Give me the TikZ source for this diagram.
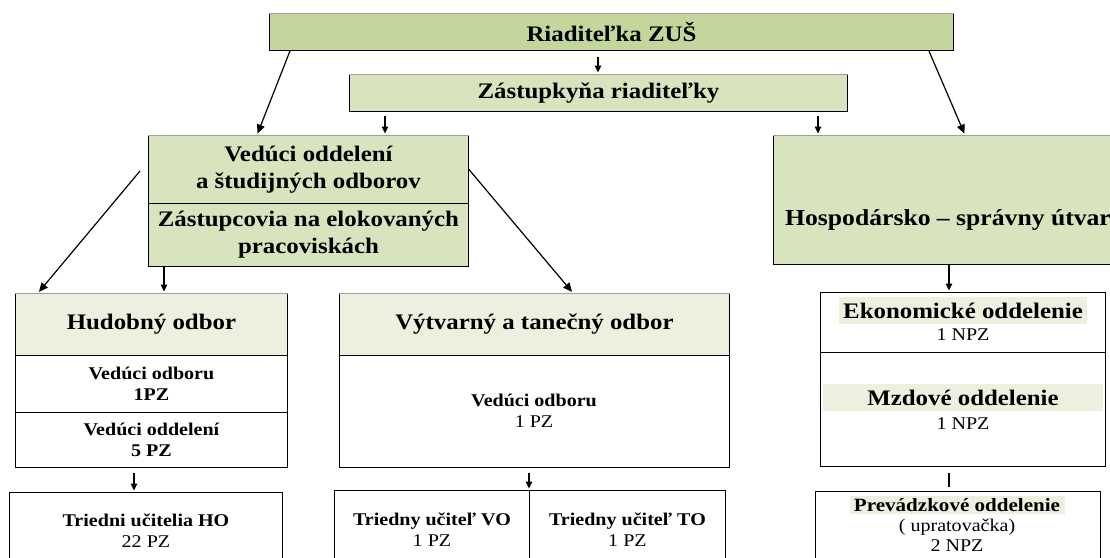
\documentclass[tikz,border=0pt]{standalone}
\usepackage{fontspec}
\setmainfont{Liberation Serif}[FakeStretch=1.12]
\usetikzlibrary{arrows.meta}
\definecolor{dkg}{HTML}{C3D69B}
\definecolor{ltg}{HTML}{D7E4BD}
\definecolor{pal}{HTML}{EBF1DE}
\definecolor{edg}{HTML}{A0A0A0}
\tikzset{
  box/.style={draw=black, line width=0.9pt, inner sep=0pt, anchor=north west, align=center},
  gbox/.style={box, fill=ltg},
  bigtxt/.style={font=\fontsize{22.2}{27}\selectfont\bfseries},
  smalltxt/.style={font=\fontsize{17.9}{21.5}\selectfont},
  smallbold/.style={font=\fontsize{17.9}{21.5}\selectfont\bfseries},
  txt/.style={inner sep=0pt, align=center},
  hl/.style={fill=pal, inner sep=0pt},
  arr/.style={-{Triangle[length=7pt,width=6.5pt]}, line width=1.1pt, shorten >=1.5pt},
  darr/.style={-{Triangle[length=9pt,width=8pt]}, line width=1.2pt, shorten >=1.5pt},
  plain/.style={line width=1.1pt},
  topedge/.style={draw=edg, line width=0.9pt},
}
\begin{document}
\begin{tikzpicture}[x=1pt,y=-1pt]
\useasboundingbox (0,0) rectangle (1110,557);
\fill[white] (0,0) rectangle (1110,557);
\clip (0,0) rectangle (1110,557);

% top level
\node[box, fill=dkg, minimum width=684pt, minimum height=37pt, bigtxt] (riad) at (269,13) {Riaditeľka ZUŠ};
\node[gbox, minimum width=498pt, minimum height=37pt, bigtxt] (zast) at (349,74) {Zástupkyňa riaditeľky};

% second level
\node[gbox, minimum width=320pt, minimum height=68pt, bigtxt] (vedA) at (148,135) {Vedúci oddelení\\a študijných odborov};
\node[gbox, minimum width=320pt, minimum height=63pt, bigtxt] (vedB) at (148,203) {Zástupcovia na elokovaných\\pracoviskách};
\node[gbox, minimum width=350pt, minimum height=129pt] (hosp) at (773,135) {};
\node[txt, anchor=west, font=\fontsize{22.9}{27}\selectfont\bfseries] (hospT) at (785,220) {Hospodársko – správny útvar};

% Hudobny odbor
\node[box, fill=pal, minimum width=272pt, minimum height=62pt, bigtxt] (hudH) at (15,293) {Hudobný odbor};
\node[box, minimum width=272pt, minimum height=57pt, smallbold] (hudR1) at (15,355) {Vedúci odboru\\1PZ};
\node[box, minimum width=272pt, minimum height=55pt, smallbold] (hudR2) at (15,412) {Vedúci oddelení\\5 PZ};

% Vytvarny a tanecny odbor
\node[box, fill=pal, minimum width=390pt, minimum height=62pt, bigtxt] (vytH) at (339,293) {Výtvarný a tanečný odbor};
\node[box, minimum width=390pt, minimum height=112pt] (vytB) at (339,355) {};
\node[txt, smalltxt] (vytT) at (534,411) {\textbf{Vedúci odboru}\\1 PZ};

% Ekonomicke / Mzdove
\node[box, minimum width=285pt, minimum height=60pt] (ekoA) at (820,292) {};
\node[box, minimum width=285pt, minimum height=114pt] (ekoB) at (820,352) {};
\node[hl, minimum width=248pt, minimum height=27pt, bigtxt] (ekoT) at (963,310.5) {Ekonomické oddelenie};
\node[txt, smalltxt] (ekoN) at (963,335) {1 NPZ};
\node[hl, minimum width=280pt, minimum height=27pt, bigtxt] (mzdT) at (963,397.5) {Mzdové oddelenie};
\node[txt, smalltxt] (mzdN) at (963,424) {1 NPZ};

% bottom row
\node[box, minimum width=273pt, minimum height=76pt, smalltxt] (trie) at (9,492) {\textbf{Triedni učitelia HO}\\22 PZ};
\node[box, minimum width=195pt, minimum height=78pt, smalltxt] (tvo) at (334,490) {\textbf{Triedny učiteľ VO}\\1 PZ};
\node[box, minimum width=196pt, minimum height=78pt, smalltxt] (tto) at (529,490) {\textbf{Triedny učiteľ TO}\\1 PZ};
\node[box, minimum width=285pt, minimum height=75pt] (prev) at (815,491) {};
\node[hl, minimum width=215pt, minimum height=18pt, font=\fontsize{18.8}{21.5}\selectfont\bfseries] (prevT) at (957,505) {Prevádzkové oddelenie};
\node[txt, smalltxt] (prevU) at (957,527) {( upratovačka)};
\node[txt, smalltxt] (prevN) at (957,546) {2 NPZ};

% grey top edges
\draw[topedge] (riad.north west) -- (riad.north east);
\draw[topedge] (zast.north west) -- (zast.north east);
\draw[topedge] (vedA.north west) -- (vedA.north east);
\draw[topedge] (hosp.north west) -- (hosp.north east);
\draw[topedge] (hudH.north west) -- (hudH.north east);
\draw[topedge] (vytH.north west) -- (vytH.north east);

% connectors
\coordinate (a1) at (598,57);
\draw[arr] (a1) -- (a1 |- zast.north);
\coordinate (a2) at (385,116);
\draw[arr] (a2) -- (a2 |- vedA.north);
\coordinate (a3) at (818,116);
\draw[arr] (a3) -- (a3 |- hosp.north);
\draw[darr] ([xshift=21pt]riad.south west) -- ([xshift=109pt]vedA.north west);
\draw[darr] ([xshift=-25pt]riad.south east) -- ([xshift=192pt]hosp.north west);
\coordinate (a6) at (140,171);
\draw[darr] (a6) -- ([xshift=23pt]hudH.north west);
\draw[darr] (vedA.east) -- ([xshift=234pt]vytH.north west);
\coordinate (a8) at ([xshift=16pt]vedB.south west);
\draw[arr] (a8) -- (a8 |- hudH.north);
\coordinate (a9) at ([xshift=176pt]hosp.south west);
\draw[arr] (a9) -- (a9 |- ekoA.north);
\coordinate (a10) at (134,473);
\draw[arr] (a10) -- (a10 |- trie.north);
\coordinate (a11) at (529,473);
\draw[arr] (a11) -- (a11 |- tvo.north);
\coordinate (a12) at (949,473);
\draw[plain] (a12) -- ([yshift=4pt]a12 |- prev.north);
\end{tikzpicture}
\end{document}
